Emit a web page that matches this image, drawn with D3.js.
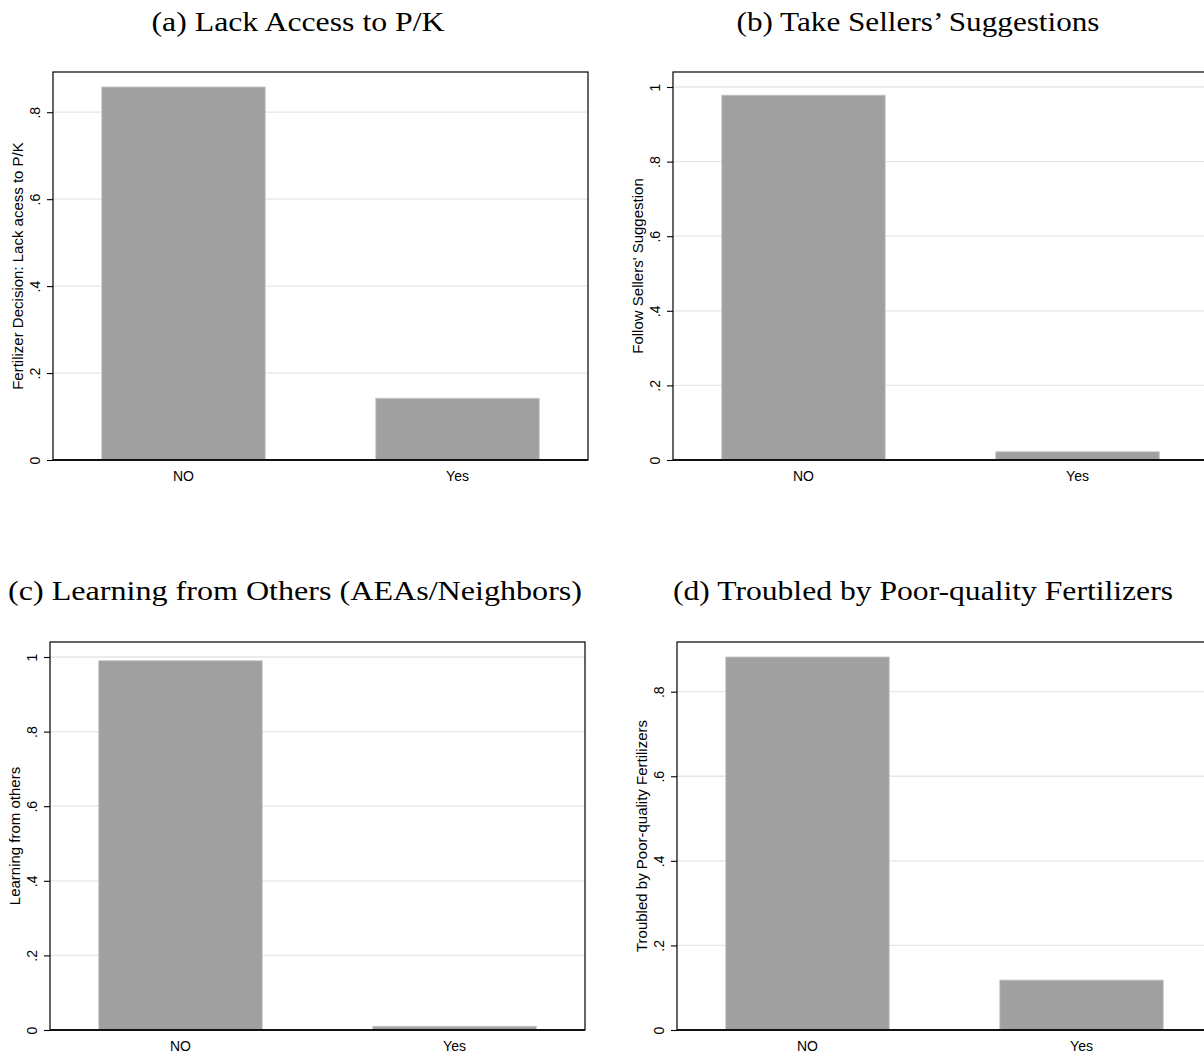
<!DOCTYPE html>
<html>
<head>
<meta charset="utf-8">
<script src="https://cdn.jsdelivr.net/npm/d3@7"></script>
<style>
  body { margin: 0; background: #fff; }
  svg { display: block; }
</style>
</head>
<body>
<div id="chart"></div>
<script>
var w = 1204;
var h = 1057;

// data
var categories = ["NO", "Yes"];
var lackAccess = [0.858, 0.142];
var sellersSuggestion = [0.978, 0.022];
var learningOthers = [0.99, 0.01];
var poorQuality = [0.882, 0.118];

var ticksTo8 = [0, 0.2, 0.4, 0.6, 0.8];
var ticksTo1 = [0, 0.2, 0.4, 0.6, 0.8, 1];

var titles = [
  "(a) Lack Access to P/K",
  "(b) Take Sellers\u2019 Suggestions",
  "(c) Learning from Others (AEAs/Neighbors)",
  "(d) Troubled by Poor-quality Fertilizers"
];
var yTitles = [
  "Fertilizer Decision: Lack acess to P/K",
  "Follow Sellers' Suggestion",
  "Learning from others",
  "Troubled by Poor-quality Fertilizers"
];

// layout of the four panels (frame of the plot region + title box)
var panels = [
  {values: lackAccess,        ticks: ticksTo8, title: titles[0], ytitle: yTitles[0], x: 53,  y: 72,  titleX: 298, titleY: 31,  titleW: 293},
  {values: sellersSuggestion, ticks: ticksTo1, title: titles[1], ytitle: yTitles[1], x: 673, y: 72,  titleX: 918, titleY: 31,  titleW: 363},
  {values: learningOthers,    ticks: ticksTo1, title: titles[2], ytitle: yTitles[2], x: 50,  y: 642, titleX: 295, titleY: 600, titleW: 574},
  {values: poorQuality,       ticks: ticksTo8, title: titles[3], ytitle: yTitles[3], x: 677, y: 642, titleX: 923, titleY: 600, titleW: 500}
];

var pw = 535;   // plot width
var ph = 388;   // plot height
var topPad = 15;
var sans = "'Liberation Sans', Arial, sans-serif";

var svg = d3.select("#chart")
            .append("svg")
            .attr("width", w)
            .attr("height", h);

var fmt = function(d) {
  if (d === 0) return "0";
  if (d === 1) return "1";
  return d3.format(".1f")(d).replace(/^0/, "");
};

panels.forEach(function(p) {
  svg.append("text")
     .attr("x", p.titleX)
     .attr("y", p.titleY)
     .attr("text-anchor", "middle")
     .attr("font-family", "'Liberation Serif', serif")
     .attr("font-size", 28)
     .attr("textLength", p.titleW)
     .attr("lengthAdjust", "spacingAndGlyphs")
     .attr("fill", "#000")
     .text(p.title);

  var g = svg.append("g")
             .attr("transform", "translate(" + p.x + "," + p.y + ")");

  var ymax = Math.max(d3.max(p.values), d3.max(p.ticks));
  var y = d3.scaleLinear()
            .domain([0, ymax])
            .range([ph, topPad]);

  var x = d3.scaleBand()
            .domain(categories)
            .range([0, pw])
            .paddingInner(0.4036)
            .paddingOuter(0.178);

  // gridlines
  g.selectAll("line.grid")
   .data(p.ticks.filter(function(t) { return t > 0; }))
   .enter()
   .append("line")
   .attr("class", "grid")
   .attr("x1", 0)
   .attr("x2", pw)
   .attr("y1", function(d) { return y(d); })
   .attr("y2", function(d) { return y(d); })
   .attr("stroke", "#e6e6e6")
   .attr("stroke-width", 1.3);

  // bars
  g.selectAll("rect.bar")
   .data(p.values)
   .enter()
   .append("rect")
   .attr("class", "bar")
   .attr("x", function(d, i) { return x(categories[i]); })
   .attr("width", x.bandwidth())
   .attr("y", function(d) { return y(d); })
   .attr("height", function(d) { return ph - y(d); })
   .attr("fill", "#a0a0a0")
   .attr("stroke", "#c4c4c4")
   .attr("stroke-width", 0.8);

  // frame
  g.append("rect")
   .attr("x", 0)
   .attr("y", 0)
   .attr("width", pw)
   .attr("height", ph)
   .attr("fill", "none")
   .attr("stroke", "#000")
   .attr("stroke-width", 1.2);

  // x axis line
  g.append("line")
   .attr("x1", 0)
   .attr("x2", pw)
   .attr("y1", ph)
   .attr("y2", ph)
   .attr("stroke", "#111")
   .attr("stroke-width", 2.2);

  // y axis ticks
  var yAxis = d3.axisLeft(y)
                .tickValues(p.ticks)
                .tickSize(6)
                .tickFormat(fmt);
  var ya = g.append("g").call(yAxis);
  ya.select(".domain").remove();
  ya.selectAll(".tick line").attr("stroke", "#000").attr("stroke-width", 1.1);
  ya.selectAll(".tick text")
    .attr("x", null)
    .attr("dy", null)
    .attr("transform", "translate(-18,0) rotate(-90)")
    .attr("text-anchor", "middle")
    .attr("dominant-baseline", "central")
    .attr("font-family", sans)
    .attr("font-size", 14)
    .attr("fill", "#000");

  // x labels
  g.selectAll("text.xlab")
   .data(categories)
   .enter()
   .append("text")
   .attr("class", "xlab")
   .attr("x", function(d) { return x(d) + x.bandwidth() / 2; })
   .attr("y", ph + 21)
   .attr("text-anchor", "middle")
   .attr("font-family", sans)
   .attr("font-size", 14)
   .attr("fill", "#000")
   .text(function(d) { return d; });

  // y title
  g.append("text")
   .attr("transform", "translate(-36," + (ph / 2) + ") rotate(-90)")
   .attr("text-anchor", "middle")
   .attr("dominant-baseline", "central")
   .attr("font-family", sans)
   .attr("font-size", 15)
   .attr("fill", "#000")
   .text(p.ytitle);
});
</script>
</body>
</html>
